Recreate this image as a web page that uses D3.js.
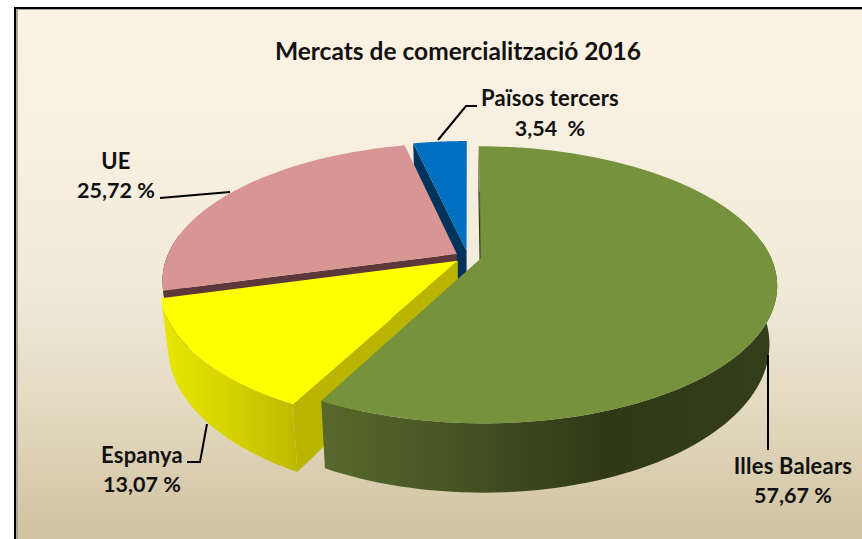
<!DOCTYPE html>
<html>
<head>
<meta charset="utf-8">
<script src="https://cdn.jsdelivr.net/npm/d3@7"></script>
<style>
  body { margin: 0; background: #fff; }
  text { font-family: Lato, sans-serif; font-weight: 700; fill: #111; }
</style>
</head>
<body>
<div id="chart"></div>
<script>
// Data
const categories = ["Illes Balears", "Espanya", "UE", "Països tercers"];
const shares = [57.67, 13.07, 25.72, 3.54];
const shareLabels = ["57,67 %", "13,07 %", "25,72 %", "3,54\u00a0\u00a0%"];
const chartTitle = "Mercats de comercialització 2016";

// Colours per slice: top surface, visible cut face
const topColors = ["#76923c", "#ffff00", "#d99594", "#0070c0"];
const faceColors = ["#2f3917", "#b9b500", "#5c383a", "#00335c"];
const rimColors = ["url(#rim-green)", "url(#rim-yellow)", "#5c383a", "#00335c"];

// Label placement, same order as categories
const labelPos = [
  { x: 793, y1: 474, y2: 503 },
  { x: 142, y1: 463, y2: 492 },
  { x: 116, y1: 169, y2: 198 },
  { x: 550, y1: 106, y2: 136 }
];
const leaders = [
  [[768, 355], [768, 450]],
  [[207, 424], [200, 462], [187, 462]],
  [[230, 192], [160, 198]],
  [[438, 140], [466, 106], [477, 106]]
];

const width = 862, height = 539;

const svg = d3.select("#chart").append("svg")
  .attr("width", width)
  .attr("height", height)
  .style("display", "block");

const defs = svg.append("defs");

function addGradient(id, x1, x2, stops, vertical) {
  const g = defs.append("linearGradient")
    .attr("id", id)
    .attr("gradientUnits", "userSpaceOnUse")
    .attr("x1", vertical ? 0 : x1)
    .attr("x2", vertical ? 0 : x2)
    .attr("y1", vertical ? x1 : 0)
    .attr("y2", vertical ? x2 : 0);
  stops.forEach(s => g.append("stop").attr("offset", s[0]).attr("stop-color", s[1]));
}

addGradient("bg", 9, 539, [[0, "#fdf3e4"], [0.5, "#f2ebda"], [0.75, "#e4dac1"], [1, "#cfc2a0"]], true);
addGradient("rim-green", 325, 775, [[0, "#56682c"], [0.25, "#485725"], [0.62, "#2f3917"], [1, "#333e1a"]]);
addGradient("rim-yellow", 162, 300, [[0, "#e8e600"], [0.5, "#d6d200"], [1, "#bcb800"]]);

// Frame
svg.append("rect").attr("x", 14).attr("y", 7).attr("width", width - 14).attr("height", height - 7).attr("fill", "#000");
svg.append("rect").attr("x", 16).attr("y", 9).attr("width", width - 16).attr("height", height - 9).attr("fill", "#a8a39a");
svg.append("rect").attr("x", 18).attr("y", 10).attr("width", width - 18).attr("height", height - 10).attr("fill", "url(#bg)");

// Perspective projection of the pie plane
const cx = 468, cy = 257;
const R = 290, K = 133, depth = 56, persp = 0.19, shrink = 0.025, explode = 0.045;

const slices = d3.pie().sort(null).value(d => d)(shares);

function project(d, angle, z, r = 1) {
  const mid = (d.startAngle + d.endAngle) / 2;
  const u = explode * Math.sin(mid) + r * (angle === null ? 0 : Math.sin(angle));
  const v = -explode * Math.cos(mid) - r * (angle === null ? 0 : Math.cos(angle));
  const s = 1 / (1 - persp * v);
  return [cx + R * u * s * (1 - shrink * z), cy + K * v * s + depth * s * z];
}

function arcAngles(d) {
  return d3.range(0, 121).map(i => d.startAngle + (d.endAngle - d.startAngle) * i / 120);
}

const line = d3.line();

// Back to front
[3, 2, 1, 0].forEach(i => {
  const d = slices[i];
  const g = svg.append("g").attr("class", "slice");

  // cut face on the start side
  g.append("path")
    .attr("d", line([
      project(d, null, 0),
      project(d, d.startAngle, 0),
      project(d, d.startAngle, 1),
      project(d, null, 1)
    ]) + "Z")
    .attr("fill", faceColors[i]);

  // outer rim, front part only
  const front = arcAngles(d).filter(a => Math.cos(a) < 0.15);
  if (front.length > 1) {
    g.append("path")
      .attr("d", line(front.map(a => project(d, a, 0))
        .concat(front.slice().reverse().map(a => project(d, a, 1)))) + "Z")
      .attr("fill", rimColors[i]);
  }

  // top surface
  g.append("path")
    .attr("d", line([project(d, null, 0)].concat(arcAngles(d).map(a => project(d, a, 0)))) + "Z")
    .attr("fill", topColors[i]);
});

// thin dark edge on the green slice's straight side
svg.append("path")
  .attr("d", line([project(slices[0], 0, 0, 0.55), project(slices[0], null, 0)]))
  .attr("stroke", "#3a451c")
  .attr("stroke-opacity", 0.6)
  .attr("fill", "none");

// Leader lines
svg.selectAll("path.leader")
  .data(leaders)
  .enter()
  .append("path")
  .attr("class", "leader")
  .attr("d", d => line(d))
  .attr("fill", "none")
  .attr("stroke", "#000")
  .attr("stroke-width", 2);

// Title
svg.append("text")
  .attr("x", 458)
  .attr("y", 60)
  .attr("text-anchor", "middle")
  .style("font-size", "24.5px")
  .text(chartTitle);

// Labels
categories.forEach((c, i) => {
  svg.append("text")
    .attr("x", labelPos[i].x)
    .attr("y", labelPos[i].y1)
    .attr("text-anchor", "middle")
    .style("font-size", "22px")
    .style("letter-spacing", "0.2px")
    .text(c);
  svg.append("text")
    .attr("x", labelPos[i].x)
    .attr("y", labelPos[i].y2)
    .attr("text-anchor", "middle")
    .style("font-size", "21.5px")
    .text(shareLabels[i]);
});
</script>
</body>
</html>
